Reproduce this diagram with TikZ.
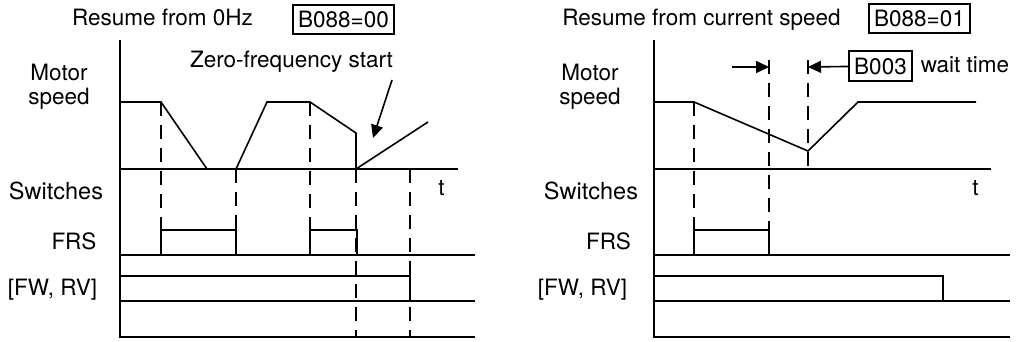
\documentclass[tikz,border=0pt]{standalone}
\usepackage{fontspec}
\setmainfont{TeX Gyre Heros}
\usetikzlibrary{arrows.meta}

\begin{document}
\begin{tikzpicture}[
  x=1pt, y=-1pt, >={Triangle[length=13pt, width=12pt]},
  every node/.style={font=\fontsize{22.5}{27}\selectfont, inner sep=0pt},
  axis/.style={line width=2.6pt},
  wave/.style={line width=1.6pt, line join=miter},
  guide/.style={line width=1.6pt, dash pattern=on 14pt off 9pt},
  param/.style={draw, line width=1.8pt, inner xsep=5pt, minimum height=29pt},
  pointer/.style={->, line width=1.6pt},
  big/.style={font=\fontsize{23.5}{28}\selectfont},
]
\useasboundingbox (0,0) rectangle (1018,341);

% Resume from 0Hz
\node[anchor=base] (titleL) at (162.5,25) {Resume from 0Hz};
\node[param] (modeL) at (343.5,19.5) {B088=00};
\node[anchor=base] (motorL) at (59,80) {Motor};
\node[anchor=base] (speedL) at (59,104) {speed};
\node[anchor=base, big] (switchL) at (56,199) {Switches};
\node[anchor=base] (frsL) at (74,249) {FRS};
\node[anchor=base] (fwrvL) at (52.5,295) {[FW, RV]};
\node[anchor=base] (timeL) at (441.5,195) {t};
\node[anchor=base] (zeroL) at (291.5,67) {Zero-frequency start};
\coordinate (zeroTail) at (392,80);
\coordinate (zeroTip) at (373,138);

\draw[axis] (120,40) -- (120,338);
\draw[axis] (119,169) -- (458,169);
\draw[wave] (120,102) -- (161,102) -- (207,169) -- (236,169) -- (267,102)
  -- (310,102) -- (356,133) -- (356,169) -- (428,122);
\draw[guide] (161,102) -- (161,230);
\draw[guide] (236,169) -- (236,230);
\draw[guide] (310,102) -- (310,230);
\draw[guide] (356,169) -- (356,337);
\draw[guide] (410,169) -- (410,337);
\draw[wave] (161,255) -- (161,230) -- (236,230) -- (236,255);
\draw[wave] (310,255) -- (310,230) -- (357,230) -- (357,255);
\draw[wave] (120,255) -- (475,255);
\draw[wave] (120,276) -- (410,276) -- (410,301);
\draw[wave] (120,301) -- (475,301);
\draw[axis] (120,337) -- (475,337);
\draw[pointer] (zeroTail) -- (zeroTip);

% Resume from current speed
\node[anchor=base] (titleR) at (701.5,25) {Resume from current speed};
\node[param] (modeR) at (919.5,18.5) {B088=01};
\node[anchor=base] (motorR) at (590,80) {Motor};
\node[anchor=base] (speedR) at (590,104) {speed};
\node[anchor=base, big] (switchR) at (591,199) {Switches};
\node[anchor=base] (frsR) at (608.5,249) {FRS};
\node[anchor=base] (fwrvR) at (582.5,295) {[FW, RV]};
\node[anchor=base] (timeR) at (975.5,195) {t};
\node[param, minimum height=30pt] (waitBox) at (880.5,66) {B003};
\node[anchor=base] (waitR) at (965,72) {wait time};
\coordinate (waitStart) at (769,67);
\coordinate (waitEnd) at (808,67);
\coordinate (waitFrom) at (732,67);

\draw[axis] (654,40) -- (654,338);
\draw[axis] (653,169) -- (991,169);
\draw[wave] (654,102) -- (694,102) -- (808,151) -- (858,102) -- (976,102);
\draw[guide] (694,102) -- (694,230);
\draw[guide] (769,60) -- (769,230);
\draw[guide] (808,60) -- (808,169);
\draw[wave] (694,255) -- (694,230) -- (769,230) -- (769,255);
\draw[wave] (654,255) -- (1010,255);
\draw[wave] (654,276) -- (943,276) -- (943,301);
\draw[wave] (654,301) -- (1010,301);
\draw[axis] (654,337) -- (1010,337);
\draw[pointer] (waitFrom) -- (waitStart);
\draw[pointer] (waitBox) -- (waitEnd);
\end{tikzpicture}
\end{document}
